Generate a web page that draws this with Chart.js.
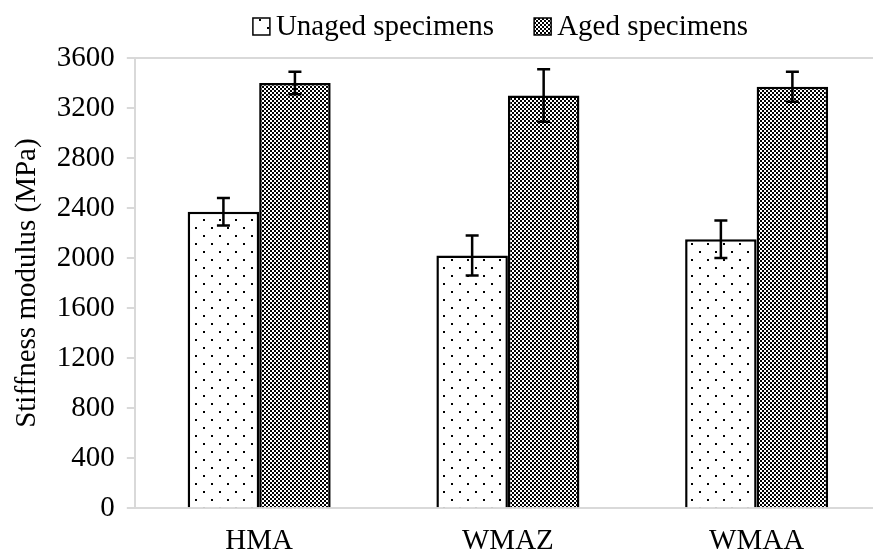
<!DOCTYPE html>
<html>
<head>
<meta charset="utf-8">
<script src="https://cdn.jsdelivr.net/npm/chart.js@4.4.0/dist/chart.umd.min.js"></script>
<style>
  html, body { margin: 0; padding: 0; background: #fff; overflow: hidden; }
  #wrap { width: 900px; height: 554px; }
</style>
</head>
<body>
<div id="wrap"><canvas id="myChart"></canvas></div>
<script>
// Data
const kategorier = ['HMA', 'WMAZ', 'WMAA'];
const unaged = [2370, 2020, 2150];
const unagedFeil = [110, 160, 150];
const aged = [3400, 3300, 3370];
const agedFeil = [90, 210, 120];
const yTicks = [0, 400, 800, 1200, 1600, 2000, 2400, 2800, 3200, 3600];

const familie = "'Liberation Serif', 'Times New Roman', serif";
const font = { family: familie, size: 29 };

// Mønster: prikker for unaged
function lagPrikker() {
  const c = document.createElement('canvas');
  c.width = 16; c.height = 16;
  const g = c.getContext('2d');
  g.fillStyle = '#fff';
  g.fillRect(0, 0, 16, 16);
  g.fillStyle = '#000';
  g.fillRect(3, 3, 2, 2);
  g.fillRect(11, 11, 2, 2);
  return document.createElement('canvas').getContext('2d').createPattern(c, 'repeat');
}

// Mønster: sjakkbrett for aged
function lagSjakk() {
  const c = document.createElement('canvas');
  c.width = 8; c.height = 8;
  const g = c.getContext('2d');
  g.fillStyle = '#fff';
  g.fillRect(0, 0, 8, 8);
  g.fillStyle = '#000';
  for (let i = 0; i < 4; i++) {
    for (let j = 0; j < 4; j++) {
      if ((i + j) % 2 === 0) g.fillRect(i * 2, j * 2, 2, 2);
    }
  }
  return document.createElement('canvas').getContext('2d').createPattern(c, 'repeat');
}

// Feilstolper
const feilPlugin = {
  id: 'feil',
  afterDatasetsDraw(chart) {
    const ctx = chart.ctx;
    const y = chart.scales.y;
    chart.data.datasets.forEach((ds, i) => {
      const meta = chart.getDatasetMeta(i);
      meta.data.forEach((bar, k) => {
        const v = ds.data[k];
        const e = ds.feil[k];
        const top = y.getPixelForValue(v + e);
        const bot = y.getPixelForValue(v - e);
        ctx.save();
        ctx.strokeStyle = '#000';
        ctx.lineWidth = 2.5;
        ctx.beginPath();
        ctx.moveTo(bar.x, top);
        ctx.lineTo(bar.x, bot);
        ctx.moveTo(bar.x - 6.5, top);
        ctx.lineTo(bar.x + 6.5, top);
        ctx.moveTo(bar.x - 6.5, bot);
        ctx.lineTo(bar.x + 6.5, bot);
        ctx.stroke();
        ctx.restore();
      });
    });
  }
};

// Egen tegnforklaring (tett mellom boks og tekst, som i Excel)
const legendPlugin = {
  id: 'egenLegend',
  afterDraw(chart) {
    const ctx = chart.ctx;
    ctx.save();
    ctx.font = `29px ${familie}`;
    const boks = 17, gapTekst = 6, gapItem = 40;
    const items = chart.data.datasets.map(ds => ({ tekst: ds.label, fyll: ds.backgroundColor }));
    const bredder = items.map(it => boks + gapTekst + ctx.measureText(it.tekst).width);
    const total = bredder.reduce((a, b) => a + b, 0) + gapItem * (items.length - 1);
    let x = 748 - total;
    items.forEach((it, i) => {
      ctx.fillStyle = it.fyll;
      ctx.fillRect(x, 18, boks, boks);
      ctx.strokeStyle = '#000';
      ctx.lineWidth = 1.5;
      ctx.strokeRect(x, 18, boks, boks);
      ctx.fillStyle = '#000';
      ctx.textBaseline = 'alphabetic';
      ctx.textAlign = 'left';
      ctx.fillText(it.tekst, x + boks + gapTekst, 35);
      x += bredder[i] + gapItem;
    });
    ctx.restore();
  }
};

window.onload = function () {
  const ctx = document.getElementById('myChart').getContext('2d');
  new Chart(ctx, {
    type: 'bar',
    data: {
      labels: kategorier,
      datasets: [{
        label: 'Unaged specimens',
        data: unaged,
        feil: unagedFeil,
        backgroundColor: lagPrikker(),
        borderColor: '#000',
        borderWidth: 2.5
      }, {
        label: 'Aged specimens',
        data: aged,
        feil: agedFeil,
        backgroundColor: lagSjakk(),
        borderColor: '#000',
        borderWidth: 2.5
      }]
    },
    options: {
      responsive: true,
      maintainAspectRatio: false,
      animation: false,
      layout: { padding: { left: 6, right: 19, top: 58, bottom: -13 } },
      datasets: {
        bar: { categoryPercentage: 0.575, barPercentage: 1.0 }
      },
      plugins: {
        legend: { display: false },
        tooltip: { enabled: false }
      },
      scales: {
        x: {
          grid: { display: false },
          border: { color: '#d9d9d9', width: 2 },
          ticks: { font: font, color: '#000', padding: 8 }
        },
        y: {
          min: 0,
          max: 3600,
          afterBuildTicks: (axis) => { axis.ticks = yTicks.map(v => ({ value: v })); },
          grid: {
            color: (c) => (c.tick && c.tick.value === 3600 ? '#d9d9d9' : 'transparent'),
            lineWidth: 2,
            tickColor: '#d9d9d9',
            tickLength: 8
          },
          border: { color: '#d9d9d9', width: 2 },
          ticks: { font: font, color: '#000', padding: 12, autoSkip: false, callback: (v) => String(v) },
          title: {
            display: true,
            text: 'Stiffness modulus (MPa)',
            font: font,
            color: '#000',
            padding: { top: 4, bottom: 0 }
          }
        }
      }
    },
    plugins: [feilPlugin, legendPlugin]
  });
};
</script>
</body>
</html>
